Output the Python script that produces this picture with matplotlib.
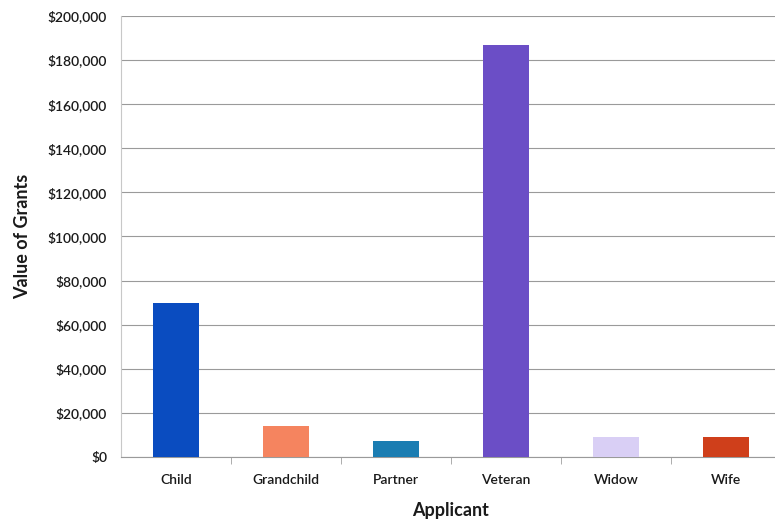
import numpy as np
import matplotlib.pyplot as plt
from matplotlib.ticker import FuncFormatter

plt.rcParams["font.family"] = ["Lato", "DejaVu Sans"]

categories = ["Child", "Grandchild", "Partner", "Veteran", "Widow", "Wife"]
values = [70000, 14000, 7300, 187000, 9100, 8900]
colors = ["#0a4cc0", "#f5845f", "#1b7db2", "#6b4ec6", "#d9cff5", "#cf3f1b"]
yticks = np.arange(0, 200001, 20000)

W, H = 775, 526
fig = plt.figure(figsize=(W / 100, H / 100), dpi=100)
# plot area runs off the right edge, as in the cropped original
ax = fig.add_axes([121 / W, 1 - 457 / H, 660 / W, 441 / H])

x = np.arange(len(categories))
ax.bar(x, values, width=0.41, color=colors, zorder=3)

ax.set_xlim(-0.5, len(categories) - 0.5)
ax.set_ylim(0, 200000)
ax.set_yticks(yticks)
ax.yaxis.set_major_formatter(FuncFormatter(lambda v, p: f"${v:,.0f}"))
ax.grid(axis="y", color="#9a9a9a", lw=0.8, zorder=0)

ax.set_xticks(x)
ax.set_xticklabels(categories)
ax.set_xticks(np.arange(0.5, len(categories) - 0.5), minor=True)
ax.tick_params(axis="x", which="major", length=0, pad=12, labelsize=10,
               labelcolor="#1a1a1a")
ax.tick_params(axis="x", which="minor", length=5, color="#a0a0a0")
ax.tick_params(axis="y", length=0, pad=10, labelsize=10, labelcolor="#1a1a1a")
for lab in ax.get_xticklabels() + ax.get_yticklabels():
    lab.set_fontweight("semibold")

for s in ["top", "right"]:
    ax.spines[s].set_visible(False)
ax.spines["left"].set_color("#c8c8c8")
ax.spines["bottom"].set_color("#9a9a9a")

ax.set_xlabel("Applicant", fontsize=13, fontweight="bold", labelpad=12,
              color="#1a1a1a")
ax.set_ylabel("Value of Grants", fontsize=13, fontweight="bold", labelpad=12,
              color="#1a1a1a")

fig.savefig("out.png", dpi=100)
